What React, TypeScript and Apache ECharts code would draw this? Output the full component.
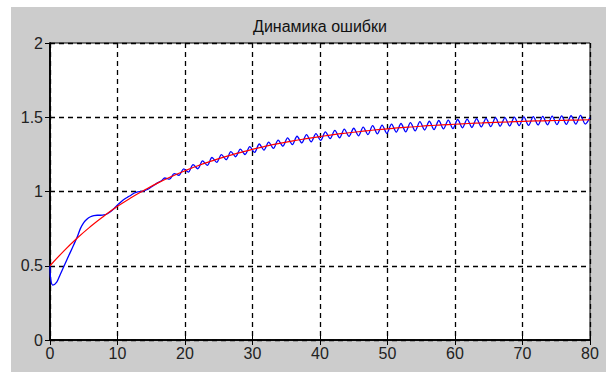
import React, { useEffect, useRef } from "react";
import * as echarts from "echarts";

const TITLE = "Динамика ошибки";
const X_MIN = 0;
const X_MAX = 80;
const X_INTERVAL = 10;
const Y_MIN = 0;
const Y_MAX = 2;
const Y_INTERVAL = 0.5;

// red curve, sampled every 2 units from t = 0
const RED_STEP = 2;
const redValues = [
  0.5, 0.597, 0.685, 0.764, 0.835, 0.9, 0.958, 1.01, 1.058, 1.101, 1.14,
  1.175, 1.206, 1.235, 1.26, 1.284, 1.305, 1.324, 1.341, 1.356, 1.37,
  1.383, 1.394, 1.404, 1.414, 1.422, 1.43, 1.436, 1.443, 1.448, 1.453,
  1.458, 1.462, 1.466, 1.469, 1.472, 1.475, 1.477, 1.479, 1.481, 1.483,
];

// blue curve, early smooth part as [t, value]
const blueEarly: [number, number][] = [
  [0, 0.5], [0.1, 0.41], [0.4, 0.37], [1, 0.39], [1.5, 0.44], [2, 0.49],
  [2.5, 0.54], [3, 0.59], [3.5, 0.64], [4, 0.69], [4.5, 0.75], [5, 0.79],
  [5.5, 0.815], [6, 0.83], [6.5, 0.838], [7, 0.84], [7.5, 0.84], [8, 0.842],
  [8.5, 0.85], [9, 0.865], [9.5, 0.885], [10, 0.91], [10.5, 0.93],
  [11, 0.948], [11.5, 0.962], [12, 0.975], [12.5, 0.99], [13, 0.998],
  [13.5, 1.0], [14, 1.005], [14.5, 1.015], [15, 1.03], [15.5, 1.045],
  [16, 1.06], [16.5, 1.072],
];

// blue curve oscillating part: successive peaks / troughs from t = 17, every 0.7
const BLUE_OSC_START = 17;
const BLUE_OSC_STEP = 0.7;
const blueOsc = [
  1.091, 1.083, 1.121, 1.109, 1.152, 1.131, 1.181, 1.153, 1.206, 1.176,
  1.229, 1.196, 1.248, 1.214, 1.268, 1.234, 1.286, 1.249, 1.302, 1.263,
  1.32, 1.279, 1.333, 1.29, 1.346, 1.305, 1.361, 1.316, 1.372, 1.327,
  1.383, 1.335, 1.39, 1.344, 1.401, 1.356, 1.411, 1.362, 1.42, 1.372,
  1.426, 1.375, 1.434, 1.383, 1.443, 1.388, 1.447, 1.392, 1.454, 1.4,
  1.458, 1.402, 1.464, 1.408, 1.47, 1.414, 1.473, 1.417, 1.478, 1.422,
  1.48, 1.424, 1.485, 1.429, 1.487, 1.431, 1.491, 1.435, 1.493, 1.437,
  1.497, 1.44, 1.498, 1.441, 1.501, 1.444, 1.502, 1.445, 1.504, 1.448,
  1.506, 1.449, 1.507, 1.451, 1.509, 1.452, 1.51, 1.454, 1.512, 1.454,
  1.499,
];

const FONT = "'Liberation Sans', Arial, sans-serif";

export default function App() {
  const ref = useRef<HTMLDivElement>(null);

  useEffect(() => {
    if (!ref.current) return;
    const chart = echarts.init(ref.current, null, { renderer: "svg" });

    const redData = redValues.map((v, i) => [i * RED_STEP, v]);
    const blueData = [
      ...blueEarly,
      ...blueOsc.map((v, i) => [
        +(BLUE_OSC_START + i * BLUE_OSC_STEP).toFixed(2),
        v,
      ]),
    ];

    const axisLine = { show: true, lineStyle: { color: "#000", width: 1.5 } };
    const tick = {
      show: true,
      inside: true,
      length: 5,
      lineStyle: { color: "#000", width: 1 },
    };
    const split = {
      show: true,
      lineStyle: { color: "#000", type: [5, 4] as number[], width: 1.3 },
    };
    const label = {
      color: "#222",
      fontSize: 16,
      fontFamily: FONT,
    };

    chart.setOption({
      animation: false,
      backgroundColor: "transparent",
      grid: {
        left: 50,
        top: 43,
        width: 540,
        height: 297,
        show: true,
        backgroundColor: "#ffffff",
        borderColor: "#000",
        borderWidth: 1,
      },
      graphic: [
        {
          type: "text",
          x: 320,
          y: 26,
          style: {
            text: TITLE,
            fill: "#111",
            font: `16px ${FONT}`,
            textAlign: "center",
            textVerticalAlign: "middle",
          },
        },
      ],
      xAxis: [
        {
          type: "value",
          min: X_MIN,
          max: X_MAX,
          interval: X_INTERVAL,
          position: "bottom",
          axisLine,
          axisTick: tick,
          splitLine: split,
          axisLabel: { ...label, margin: 5 },
        },
        {
          type: "value",
          min: X_MIN,
          max: X_MAX,
          interval: X_INTERVAL,
          position: "top",
          axisLine,
          axisTick: tick,
          splitLine: { show: false },
          axisLabel: { show: false },
        },
      ],
      yAxis: [
        {
          type: "value",
          min: Y_MIN,
          max: Y_MAX,
          interval: Y_INTERVAL,
          position: "left",
          axisLine,
          axisTick: tick,
          splitLine: split,
          axisLabel: { ...label, margin: 7 },
        },
        {
          type: "value",
          min: Y_MIN,
          max: Y_MAX,
          interval: Y_INTERVAL,
          position: "right",
          axisLine,
          axisTick: tick,
          splitLine: { show: false },
          axisLabel: { show: false },
        },
      ],
      series: [
        {
          type: "line",
          name: "blue",
          data: blueData,
          showSymbol: false,
          smooth: 0.3,
          lineStyle: { color: "#0000ff", width: 1.3 },
          z: 3,
        },
        {
          type: "line",
          name: "red",
          data: redData,
          showSymbol: false,
          smooth: true,
          lineStyle: { color: "#ff0000", width: 1.2 },
          z: 4,
        },
      ],
    });

    return () => chart.dispose();
  }, []);

  return (
    <div
      style={{
        position: "fixed",
        left: 0,
        top: 0,
        width: 606,
        height: 372,
        background: "#ffffff",
      }}
    >
      <div
        style={{
          position: "absolute",
          left: 11,
          top: 7,
          width: 595,
          height: 365,
          background: "#cccccc",
        }}
      />
      <div
        ref={ref}
        style={{ position: "absolute", left: 0, top: 0, width: 606, height: 372 }}
      />
    </div>
  );
}
